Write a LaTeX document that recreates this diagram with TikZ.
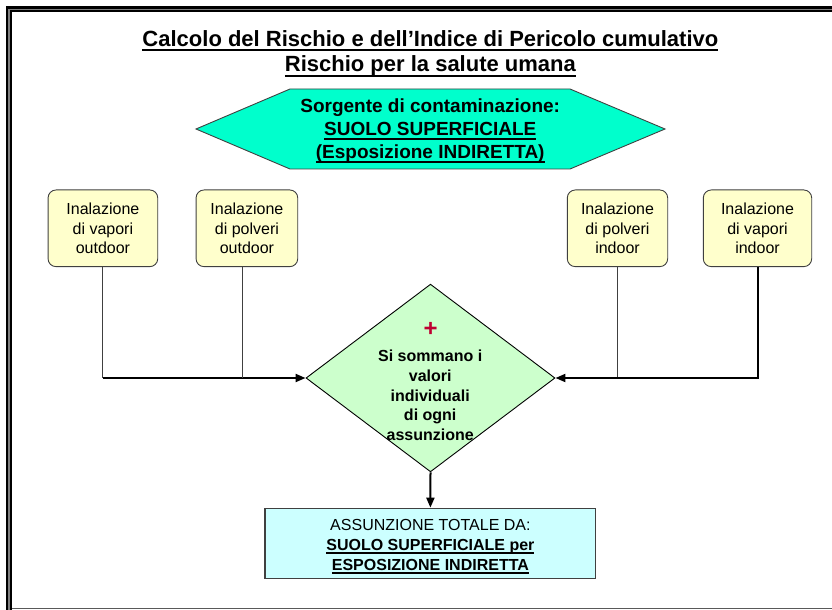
\documentclass[tikz,border=0pt]{standalone}
\usepackage{fontspec}
\setmainfont{Liberation Sans}
\usetikzlibrary{arrows.meta,shapes.geometric}
\definecolor{hexfill}{RGB}{0,255,204}
\definecolor{boxyellow}{RGB}{255,255,204}
\definecolor{diafill}{RGB}{204,255,204}
\definecolor{totfill}{RGB}{204,255,255}
\definecolor{plusred}{RGB}{190,0,50}
\definecolor{edgegray}{RGB}{64,64,64}
\newcommand\myul[1]{\leavevmode\setbox0\hbox{#1}\rlap{\vrule height -0.12em depth 0.23em width \wd0}\box0}
\tikzset{
  inbox/.style={draw=edgegray, line width=0.9bp, fill=boxyellow, rounded corners=8bp,
    minimum height=76.7bp, align=center, inner sep=0,
    font=\fontsize{16bp}{19.5bp}\selectfont},
  thinline/.style={draw=edgegray, line width=1bp},
  thickline/.style={draw=black, line width=2bp, -{Triangle[length=10bp,width=8bp]}},
  txt/.style={anchor=north, align=center, inner sep=0}
}
\begin{document}
\begin{tikzpicture}[x=1bp,y=-1bp]
\useasboundingbox (0,0) rectangle (832,610);
\clip (0,0) rectangle (832,610);
% frame
\draw[line width=6bp] (9,640) -- (9,9.3) -- (860,9.3);
\draw[line width=1.2bp, gray] (9,640) -- (9,9.3) -- (860,9.3);
\draw[line width=1.3bp, gray!70!black] (12,608.8) -- (860,608.8);
% titles
\node[txt, font=\bfseries\fontsize{22bp}{25.7bp}\selectfont] (title) at (430.4,29)
  {\rule{0pt}{17bp}\myul{Calcolo del Rischio e dell’Indice di Pericolo cumulativo}\\\myul{Rischio per la salute umana}};
% source hexagon
\draw[draw=edgegray, line width=0.9bp, fill=hexfill] (196,129) -- (290,89) -- (570,89) -- (665,129) -- (570,169) -- (290,169) -- cycle;
\node[txt, font=\bfseries\fontsize{19bp}{22.8bp}\selectfont] (src) at (430.2,97.7)
  {\rule{0pt}{15bp}Sorgente di contaminazione:\\\myul{SUOLO SUPERFICIALE}\\\myul{(Esposizione INDIRETTA)}};
% exposure boxes
\node[inbox, minimum width=109.7bp] (b1) at (102.9,228.3) {Inalazione\\di vapori\\outdoor};
\node[inbox, minimum width=101.7bp] (b2) at (246.9,228.3) {Inalazione\\di polveri\\outdoor};
\node[inbox, minimum width=100.4bp] (b3) at (617.5,228.3) {Inalazione\\di polveri\\indoor};
\node[inbox, minimum width=108.4bp] (b4) at (757.5,228.3) {Inalazione\\di vapori\\indoor};
% diamond
\node[shape=diamond, draw=black, line width=0.9bp, fill=diafill, inner sep=0,
  minimum width=249bp, minimum height=187.7bp] (d) at (430.5,378) {};
\node[inner sep=0, text=plusred, font=\bfseries\fontsize{24bp}{24bp}\selectfont] (plus) at (430.7,329.3) {+};
\node[txt, font=\bfseries\fontsize{16bp}{19.6bp}\selectfont] (dtext) at (430.2,347.7)
  {\rule{0pt}{14bp}Si sommano i\\valori\\individuali\\di ogni\\assunzione};
% total box
\node[draw=edgegray, line width=1.3bp, fill=totfill, minimum width=330.7bp, minimum height=70bp, inner sep=0] (tot) at (430.4,543.3) {};
\node[txt, font=\fontsize{16bp}{20bp}\selectfont] (tottext) at (430.4,516)
  {\rule{0pt}{14bp}ASSUNZIONE TOTALE DA:\\\textbf{\myul{SUOLO SUPERFICIALE per}}\\\textbf{\myul{ESPOSIZIONE INDIRETTA}}};
% connectors
\coordinate (j2) at (242.7,0);
\draw[thinline] (b1.south) -- (b1.south |- d.west);
\draw[thickline] (b1.south |- d.west) -- (d.west);
\draw[thinline] (b2.south -| j2) -- (d.west -| j2);
\draw[thinline] (b3.south) -- (b3.south |- d.east);
\draw[thickline] (b4.south) |- (d.east);
\draw[thickline] (d.south) -- (tot.north);
\end{tikzpicture}
\end{document}
